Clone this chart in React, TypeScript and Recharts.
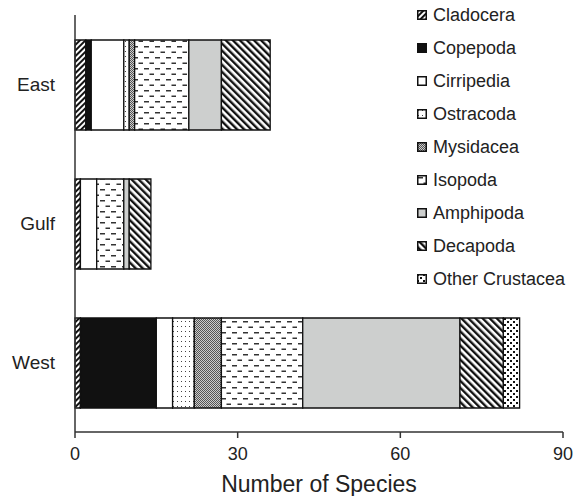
import { Bar, BarChart, Label, XAxis, YAxis } from "recharts";

const regions = ["East", "Gulf", "West"];
// species counts per region, same order as regions
const cladocera = [2, 1, 1];
const copepoda = [1, 0, 14];
const cirripedia = [6, 3, 3];
const ostracoda = [1, 0, 4];
const mysidacea = [1, 0, 5];
const isopoda = [10, 5, 15];
const amphipoda = [6, 1, 29];
const decapoda = [9, 4, 8];
const otherCrustacea = [0, 0, 3];
const xTicks = [0, 30, 60, 90];

const groups = [
  { key: "cladocera", name: "Cladocera", values: cladocera, fill: "url(#pat-clad)" },
  { key: "copepoda", name: "Copepoda", values: copepoda, fill: "#111" },
  { key: "cirripedia", name: "Cirripedia", values: cirripedia, fill: "#fff" },
  { key: "ostracoda", name: "Ostracoda", values: ostracoda, fill: "url(#pat-ostr)" },
  { key: "mysidacea", name: "Mysidacea", values: mysidacea, fill: "url(#pat-mysi)" },
  { key: "isopoda", name: "Isopoda", values: isopoda, fill: "url(#pat-iso)" },
  { key: "amphipoda", name: "Amphipoda", values: amphipoda, fill: "#cdcfce" },
  { key: "decapoda", name: "Decapoda", values: decapoda, fill: "url(#pat-deca)" },
  { key: "other", name: "Other Crustacea", values: otherCrustacea, fill: "url(#pat-other)" },
];

const data = regions.map((region, i) => {
  const row: Record<string, string | number> = { region };
  groups.forEach((g) => {
    row[g.key] = g.values[i];
  });
  return row;
});

function Patterns() {
  return (
    <svg width={0} height={0} style={{ position: "absolute" }}>
      <defs>
        <pattern id="pat-clad" width="4" height="4" patternUnits="userSpaceOnUse" patternTransform="rotate(45)">
          <rect width="4" height="4" fill="#fff" />
          <rect width="2" height="4" fill="#111" />
        </pattern>
        <pattern id="pat-deca" width="5" height="5" patternUnits="userSpaceOnUse" patternTransform="rotate(-45)">
          <rect width="5" height="5" fill="#fff" />
          <rect width="2.4" height="5" fill="#111" />
        </pattern>
        <pattern id="pat-ostr" width="4" height="5" patternUnits="userSpaceOnUse">
          <rect width="4" height="5" fill="#fff" />
          <rect x="1" y="1" width="1" height="1" fill="#444" />
        </pattern>
        <pattern id="pat-mysi" width="2" height="2" patternUnits="userSpaceOnUse">
          <rect width="2" height="2" fill="#ccc" />
          <rect width="1" height="1" fill="#555" />
          <rect x="1" y="1" width="1" height="1" fill="#555" />
        </pattern>
        <pattern id="pat-iso" width="11" height="11" patternUnits="userSpaceOnUse">
          <rect width="11" height="11" fill="#fff" />
          <rect x="1" y="2" width="5" height="1.5" fill="#333" />
          <rect x="6.5" y="7.5" width="5" height="1.5" fill="#333" />
        </pattern>
        <pattern id="pat-other" width="6" height="6" patternUnits="userSpaceOnUse">
          <rect width="6" height="6" fill="#fff" />
          <rect width="2" height="2" fill="#111" />
          <rect x="3" y="3" width="2" height="2" fill="#111" />
        </pattern>
      </defs>
    </svg>
  );
}

export default function App() {
  return (
    <div
      style={{
        position: "absolute",
        left: 0,
        top: 0,
        width: 575,
        height: 496,
        background: "#fff",
        fontFamily: "'Liberation Sans', Arial, sans-serif",
      }}
    >
      <Patterns />
      <BarChart
        width={575}
        height={496}
        data={data}
        layout="vertical"
        margin={{ top: 15, right: 12, bottom: 0, left: 0 }}
        barSize={90}
      >
        <XAxis
          type="number"
          domain={[0, 90]}
          ticks={xTicks}
          interval={0}
          height={64}
          tickSize={6}
          tickMargin={9}
          stroke="#333"
          strokeWidth={1.5}
          tick={{ fill: "#222", fontSize: 18 }}
        >
          <Label value="Number of Species" position="insideBottom" offset={4} style={{ fontSize: 23, fill: "#222" }} />
        </XAxis>
        <YAxis
          type="category"
          dataKey="region"
          width={75}
          tickLine={false}
          tickSize={0}
          tickMargin={20}
          stroke="#333"
          strokeWidth={1.5}
          tick={{ fill: "#222", fontSize: 19 }}
        />
        {groups.map((g) => (
          <Bar
            key={g.key}
            dataKey={g.key}
            name={g.name}
            stackId="a"
            fill={g.fill}
            stroke="#111"
            strokeWidth={1.3}
            isAnimationActive={false}
          />
        ))}
      </BarChart>

      <div style={{ position: "absolute", left: 417, top: 0 }}>
        {groups.map((g, i) => (
          <div
            key={g.key}
            style={{
              position: "absolute",
              left: 0,
              top: 15 + i * 33 - 12,
              height: 24,
              display: "flex",
              alignItems: "center",
              whiteSpace: "nowrap",
            }}
          >
            <svg width={10} height={10}>
              <rect x={0.75} y={0.75} width={8.5} height={8.5} fill={g.fill} stroke="#111" strokeWidth={1.5} />
            </svg>
            <span style={{ marginLeft: 6, fontSize: 18, color: "#222" }}>{g.name}</span>
          </div>
        ))}
      </div>
    </div>
  );
}
